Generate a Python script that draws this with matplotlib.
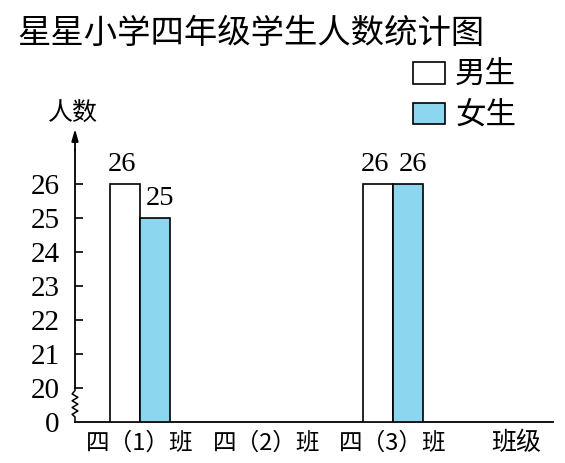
import numpy as np
import matplotlib
matplotlib.use("Agg")
import matplotlib.pyplot as plt
from matplotlib.patches import Patch

plt.rcParams['font.family'] = ['Noto Sans CJK SC', 'DejaVu Sans']

# ---- data ----
classes = ['四（1）班', '四（2）班', '四（3）班']
boys = [26, np.nan, 26]
girls = [25, np.nan, 26]
series_names = ['男生', '女生']
yticks = [0, 20, 21, 22, 23, 24, 25, 26]
title = '星星小学四年级学生人数统计图'
ylabel = '人数'
xlabel = '班级'

CJK = ['Noto Sans CJK SC', 'DejaVu Sans']
NUM = ['Liberation Serif', 'DejaVu Serif']
blue = '#8dd6f0'

W, H = 565, 463
fig = plt.figure(figsize=(W / 100, H / 100), dpi=100)
ax = fig.add_axes([75 / W, (H - 422) / H, (553 - 75) / W, (422 - 132) / H])

# broken scale: 0..20 compressed into one unit, then 1 unit per person
def fwd(v):
    v = np.asarray(v, dtype=float)
    return np.where(v < 20, v / 20.0, v - 19.0)

def inv(y):
    y = np.asarray(y, dtype=float)
    return np.where(y < 1, y * 20.0, y + 19.0)

ax.set_yscale('function', functions=(fwd, inv))
ax.set_ylim(0, 27.53)
ax.set_xlim(-0.514, 3.265)

x = np.arange(len(classes))
bw = 0.237
b1 = ax.bar(x - bw / 2, boys, bw, color='white', edgecolor='black', linewidth=1.2, zorder=3)
b2 = ax.bar(x + bw / 2, girls, bw, color=blue, edgecolor='black', linewidth=1.2, zorder=3)

for bars, vals, dx in ((b1, boys, -2.5), (b2, girls, 3.5)):
    for rect, v in zip(bars, vals):
        if np.isnan(v):
            continue
        ax.annotate(f'{int(v)}', (rect.get_x() + rect.get_width() / 2, v),
                    xytext=(dx, 5), textcoords='offset points', ha='center', va='bottom',
                    fontsize=20.5, family=NUM)

# axes styling
for s in ('top', 'right'):
    ax.spines[s].set_visible(False)
ax.spines['bottom'].set_linewidth(1.3)
ax.spines['left'].set_visible(False)

ax.set_yticks(yticks)
ax.set_yticklabels([str(t) for t in yticks], family=NUM, fontsize=21)
ax.tick_params(axis='y', direction='in', length=6, width=1.2, pad=11)
ax.set_xticks(x)
ax.set_xticklabels(classes, fontsize=17, family=CJK)
ax.tick_params(axis='x', length=0, pad=7)
ax.yaxis.get_major_ticks()[0].tick1line.set_visible(False)

# left axis line with break and arrow
ax.plot([0, 0], [20, 27.0], transform=ax.get_yaxis_transform(), color='black', lw=1.3, clip_on=False, zorder=4)
zz_y = [20, 18.5, 16.5, 14.5, 12.5, 10.5, 8.5, 6.5, 4.5, 3, 0]
zz_x = [0, 0, -0.006, 0.006, -0.006, 0.006, -0.006, 0.006, -0.006, 0, 0]
ax.plot(zz_x, zz_y, transform=ax.get_yaxis_transform(), color='black', lw=1.1, clip_on=False, zorder=4)
ax.annotate('', xy=(0, 27.7), xycoords=ax.get_yaxis_transform(), xytext=(0, 26.9),
            textcoords=ax.get_yaxis_transform(),
            arrowprops=dict(arrowstyle='-|>,head_length=0.7,head_width=0.2', color='black', lw=1.3),
            annotation_clip=False)

# labels
fig.text(48 / W, 1 - 113 / H, ylabel, fontsize=18, family=CJK, ha='left', va='center')
fig.text(516 / W, 1 - 443 / H, xlabel, fontsize=18, family=CJK, ha='center', va='center')
fig.text(17 / W, 1 - 33 / H, title, fontsize=24, family=CJK, ha='left', va='center')

handles = [Patch(facecolor='white', edgecolor='black', linewidth=1.2),
           Patch(facecolor=blue, edgecolor='black', linewidth=1.2)]
fig.legend(handles, series_names, loc='upper left', bbox_to_anchor=(413 / W, 1 - 60 / H),
           frameon=False, prop={'family': CJK, 'size': 22}, handlelength=1.05,
           handleheight=0.72, handletextpad=0.33, labelspacing=0.3, borderpad=0, borderaxespad=0)

fig.savefig('out.png', dpi=100)
